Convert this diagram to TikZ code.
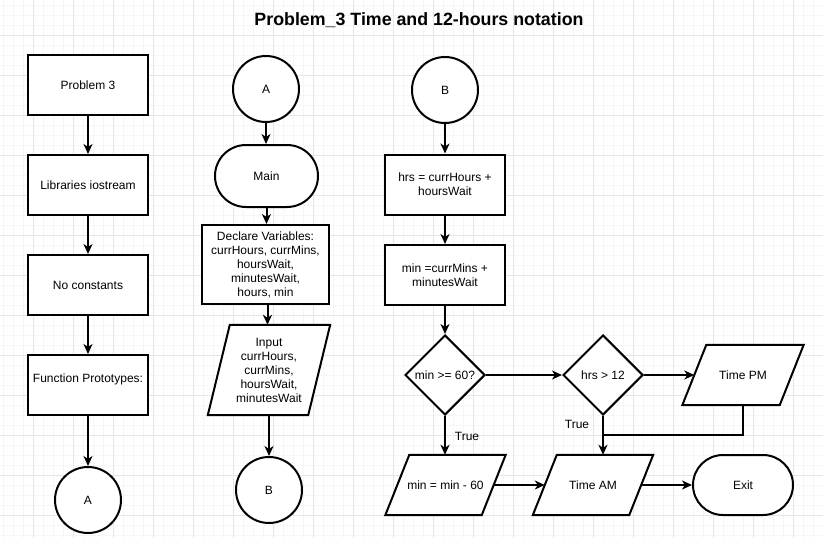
\documentclass[tikz,border=0pt]{standalone}
\usepackage{fontspec}
\setmainfont{Liberation Sans}
\usetikzlibrary{shapes.geometric,arrows.meta,calc}
\definecolor{minorgrid}{HTML}{F6F6F6}
\definecolor{majorgrid}{HTML}{E6E6E6}
\pgfdeclarelayer{bg}
\pgfsetlayers{bg,main}
\newcommand{\pgram}[2]{\draw[pline] ([xshift=#2]#1.north west) -- ([xshift=#2]#1.north east) -- ([xshift=-#2]#1.south east) -- ([xshift=-#2]#1.south west) -- cycle;}
\begin{document}
\begin{tikzpicture}[x=1pt,y=-1pt,
 every node/.style={font=\fontsize{12}{14}\selectfont, align=center, inner sep=0pt},
 box/.style={draw, fill=white, line width=2pt, minimum width=120pt, minimum height=60pt},
 conn/.style={draw, fill=white, circle, line width=2pt, minimum size=66pt},
 term/.style={draw, fill=white, line width=2pt, rounded corners=30pt, minimum width=100pt, minimum height=60pt},
 dec/.style={draw, fill=white, diamond, line width=2pt, minimum width=80pt, minimum height=80pt, aspect=1},
 io/.style={minimum width=96pt, minimum height=60pt},
 pline/.style={draw, fill=white, line width=2pt, line join=miter},
 arr/.style={line width=2pt, -{Stealth[length=10pt,width=9pt,inset=3pt]}},
 lnk/.style={line width=2pt},
 lbl/.style={font=\fontsize{12}{14}\selectfont}
]
\useasboundingbox (0,0) rectangle (823,538);
\begin{pgfonlayer}{bg}
\fill[white] (0,0) rectangle (823,538);
\foreach \x in {3,13,...,823} \draw[minorgrid, line width=1pt] (\x,0) -- (\x,538);
\foreach \y in {5,15,...,538} \draw[minorgrid, line width=1pt] (0,\y) -- (823,\y);
\foreach \x in {33,73,...,823} \draw[majorgrid, line width=1pt] (\x,0) -- (\x,538);
\foreach \y in {35,75,...,538} \draw[majorgrid, line width=1pt] (0,\y) -- (823,\y);
\end{pgfonlayer}

\node (title) at (419,20) {\fontsize{17.8}{20}\selectfont\bfseries Problem\_3 Time and 12-hours notation};

% column 1
\node[box] (p3) at (88,85) {Problem 3};
\node[box] (lib) at (88,185) {Libraries iostream};
\node[box] (nc) at (88,285) {No constants};
\node[box] (fp) at (88,385) {Function Prototypes:\\\mbox{}};
\node[conn] (ca) at (88,500) {A};
\draw[arr] (p3) -- (lib);
\draw[arr] (lib) -- (nc);
\draw[arr] (nc) -- (fp);
\draw[arr] (fp) -- (ca);

% column 2
\node[conn] (a2) at (266,89) {A};
\node[term, minimum width=103pt, minimum height=62pt, rounded corners=31pt] (main) at (266.5,176) {Main};
\node[box, minimum width=127pt, minimum height=79pt] (decl) at (265.5,264.5) {Declare Variables:\\currHours, currMins,\\hoursWait,\\minutesWait,\\hours, min};
\node[io, minimum width=100pt, minimum height=90pt] (inp) at (269,370) {Input\\currHours,\\currMins,\\hoursWait,\\minutesWait};
\node[conn] (b2) at (269,490) {B};
\draw[arr] (a2) -- (a2 |- main.north);
\draw[arr] (main) -- (main |- decl.north);
\draw[arr] ([xshift=2pt]decl.south) -- ([xshift=2pt]decl.south |- inp.north);
\draw[arr] (inp.south) -- (b2);

% column 3
\node[conn] (b3) at (445,90) {B};
\node[box] (hrs) at (445,184.5) {hrs = currHours +\\hoursWait};
\node[box] (mins) at (445,275) {min =currMins +\\minutesWait};
\node[dec] (d1) at (445,375) {min >= 60?};
\node[dec] (d2) at (603,375) {hrs > 12};
\node[io, minimum width=97pt] (pm) at (743,375) {Time PM};
\node[io] (m60) at (445.5,485) {min = min - 60};
\node[io] (am) at (593,485) {Time AM};
\node[term] (ex) at (743,485) {Exit};
\node[lbl] (t1) at (467,436) {True};
\node[lbl] (t2) at (577,424) {True};
\coordinate (join) at (603,435);

\draw[arr] (b3) -- (hrs);
\draw[arr] (hrs) -- (mins);
\draw[arr] (mins) -- (d1);
\draw[arr] (d1) -- (d2);
\draw[arr] (d2.east) -- (pm.west);
\draw[arr] (d1.south) -- (d1.south |- m60.north);
\draw[arr] (d2.south) -- (d2.south |- am.north);
\draw[lnk] (pm.south) |- (join);
\draw[arr] (m60.east) -- (am.west);
\draw[arr] (am.east) -- (ex.west);

\begin{pgfonlayer}{bg}
\pgram{inp}{11pt}
\pgram{pm}{12pt}
\pgram{m60}{12pt}
\pgram{am}{12pt}
\end{pgfonlayer}
\end{tikzpicture}
\end{document}
